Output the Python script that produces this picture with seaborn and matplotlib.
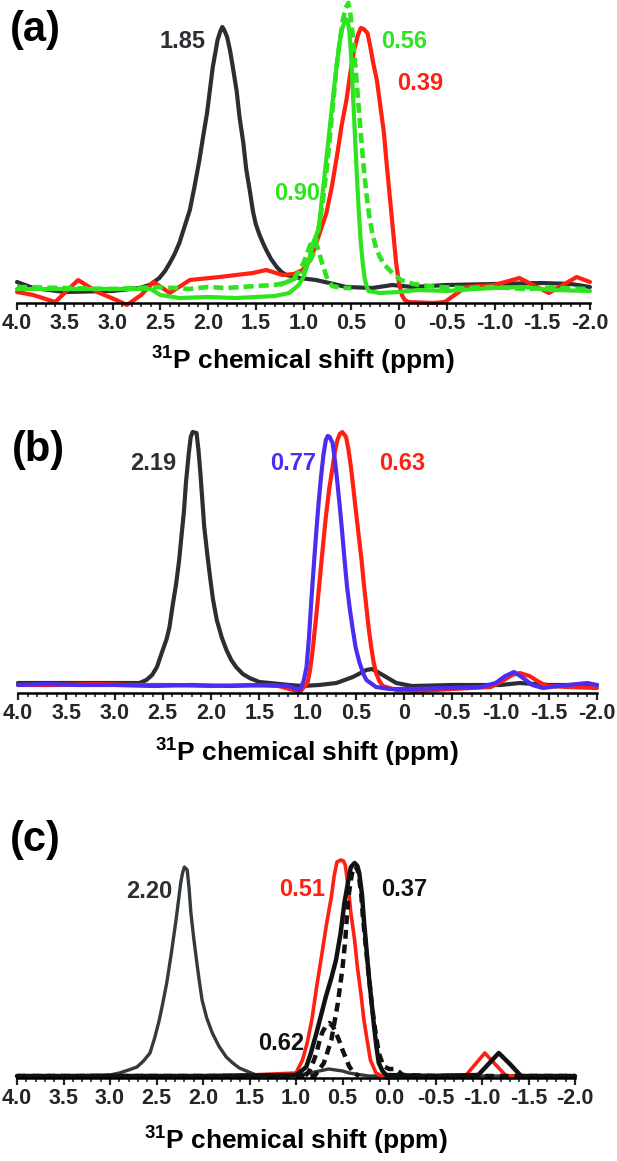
import numpy as np
import matplotlib
matplotlib.use("Agg")
import matplotlib.pyplot as plt
import seaborn as sns
from matplotlib.ticker import MultipleLocator, FixedLocator

sns.set_style("white")
plt.rcParams['font.family'] = ['Liberation Sans', 'DejaVu Sans']
plt.rcParams['mathtext.fontset'] = 'custom'
plt.rcParams['mathtext.rm'] = 'Liberation Sans:bold'
plt.rcParams['mathtext.bf'] = 'Liberation Sans:bold'

# ---------------- data: (ppm, intensity in arbitrary units) ----------------
# panel (a)
a_black = [(4.00, 21), (3.83, 15), (3.50, 11), (3.00, 12), (2.72, 15), (2.61, 18), (2.51, 25), (2.45, 32),
           (2.40, 40), (2.35, 49), (2.30, 60), (2.25, 75), (2.19, 93), (2.14, 117), (2.09, 143), (2.05, 167),
           (2.01, 190), (1.98, 213), (1.95, 236), (1.92, 252), (1.90, 263), (1.87, 272), (1.85, 276), (1.83, 273),
           (1.80, 266), (1.77, 253), (1.74, 236), (1.70, 212), (1.67, 186), (1.63, 160), (1.60, 134), (1.56, 111),
           (1.53, 92), (1.50, 79), (1.46, 68), (1.42, 59), (1.39, 53), (1.34, 44), (1.28, 36), (1.23, 31),
           (1.18, 28), (1.04, 25), (0.87, 23), (0.73, 20), (0.55, 16), (0.28, 15), (0.07, 18), (-0.14, 16),
           (-0.50, 18), (-1.00, 19), (-1.50, 20), (-1.80, 19), (-2.00, 16)]

a_red = [(4.00, 11), (3.83, 8), (3.60, 1), (3.36, 23), (3.16, 11), (2.96, 3), (2.85, -2), (2.70, 8), (2.57, 21),
         (2.40, 10), (2.19, 23), (1.88, 26), (1.53, 30), (1.39, 33), (1.22, 28), (1.10, 29), (1.01, 33), (0.95, 40),
         (0.89, 53), (0.83, 70), (0.76, 90), (0.70, 118), (0.64, 153), (0.60, 178), (0.55, 203), (0.51, 230),
         (0.47, 253), (0.43, 268), (0.40, 275), (0.37, 274), (0.33, 270), (0.30, 256), (0.27, 240), (0.23, 222),
         (0.20, 200), (0.16, 172), (0.13, 140), (0.10, 110), (0.07, 80), (0.05, 60), (0.03, 40), (0.00, 20),
         (-0.03, 8), (-0.06, 3), (-0.10, 1), (-0.36, 0), (-0.48, 1), (-0.70, 16), (-1.00, 18), (-1.26, 25),
         (-1.57, 10), (-1.86, 26), (-2.00, 21)]

a_green = [(4.00, 14), (3.50, 14), (3.00, 14), (2.60, 14), (2.50, 8), (2.30, 5), (2.00, 6), (1.70, 5), (1.50, 6),
           (1.30, 7), (1.15, 10), (1.05, 18), (1.00, 26), (0.97, 35), (0.93, 48), (0.90, 60), (0.87, 67),
           (0.84, 75), (0.80, 110), (0.76, 145), (0.72, 180), (0.68, 215), (0.65, 240), (0.62, 262), (0.59, 276),
           (0.56, 284), (0.54, 283), (0.52, 272), (0.50, 245), (0.48, 205), (0.46, 165), (0.44, 125), (0.42, 90),
           (0.40, 60), (0.38, 40), (0.36, 25), (0.34, 17), (0.32, 12), (0.20, 10), (0.00, 11), (-0.20, 13),
           (-0.50, 12), (-0.80, 14), (-1.00, 15), (-1.30, 16), (-1.60, 13), (-2.00, 12)]

a_green_fit = [(4.00, 16), (3.50, 15), (3.00, 14), (2.50, 16), (2.20, 14), (2.00, 16), (1.80, 15), (1.50, 17),
               (1.30, 18), (1.20, 20), (1.10, 24), (1.00, 30), (0.90, 48), (0.85, 70), (0.80, 100), (0.75, 140),
               (0.70, 190), (0.66, 230), (0.62, 262), (0.59, 282), (0.56, 295), (0.53, 300), (0.51, 290),
               (0.49, 272), (0.46, 240), (0.43, 205), (0.40, 170), (0.37, 136), (0.34, 108), (0.31, 86),
               (0.28, 70), (0.24, 55), (0.20, 46), (0.15, 38), (0.07, 30), (-0.02, 23), (-0.15, 19), (-0.40, 16),
               (-0.70, 15), (-1.00, 16), (-1.30, 14), (-1.60, 15), (-2.00, 14)]

a_green_fit2 = [(1.25, 18), (1.10, 24), (1.00, 40), (0.93, 58), (0.89, 63), (0.85, 55), (0.80, 38), (0.75, 24),
                (0.70, 17), (0.60, 15), (0.50, 15)]

# panel (b)
b_black = [(4.00, 10), (3.50, 10), (3.00, 10), (2.74, 10), (2.67, 13), (2.61, 18), (2.56, 26), (2.50, 43),
           (2.46, 54), (2.43, 66), (2.40, 86), (2.36, 110), (2.33, 133), (2.31, 153), (2.28, 182), (2.26, 210),
           (2.23, 240), (2.21, 256), (2.19, 261), (2.15, 260), (2.13, 243), (2.11, 220), (2.09, 193), (2.07, 166),
           (2.04, 140), (2.01, 116), (1.98, 94), (1.94, 73), (1.89, 56), (1.84, 43), (1.79, 33), (1.74, 26),
           (1.67, 19), (1.60, 15), (1.50, 11), (1.39, 10), (1.19, 8), (1.05, 7), (0.88, 8), (0.70, 10),
           (0.53, 16), (0.39, 23), (0.33, 24), (0.22, 18), (0.08, 10), (-0.08, 7), (-0.50, 8), (-1.00, 8),
           (-1.20, 10), (-1.50, 8), (-2.00, 8)]

b_red = [(4.00, 8), (3.60, 8), (3.20, 9), (2.80, 8), (2.40, 8), (2.00, 7), (1.60, 8), (1.30, 7), (1.15, 3),
         (1.08, 1), (1.00, 10), (0.975, 22), (0.95, 40), (0.915, 72), (0.88, 106), (0.845, 142), (0.81, 176),
         (0.775, 204), (0.74, 226), (0.715, 242), (0.69, 253), (0.665, 259), (0.64, 261), (0.60, 256),
         (0.575, 243), (0.55, 226), (0.525, 205), (0.50, 183), (0.47, 158), (0.44, 133), (0.415, 108),
         (0.39, 86), (0.365, 64), (0.34, 46), (0.315, 31), (0.29, 20), (0.255, 12), (0.22, 7), (0.08, 3),
         (-0.16, 2), (-0.50, 4), (-0.90, 6), (-1.02, 12), (-1.12, 18), (-1.20, 20), (-1.30, 17), (-1.40, 11),
         (-1.48, 7), (-1.70, 6), (-2.00, 5)]

b_blue = [(4.00, 8), (3.70, 9), (3.40, 8), (3.00, 8), (2.60, 7), (2.20, 8), (1.80, 7), (1.40, 8), (1.20, 7),
          (1.08, 3), (1.04, 12), (1.01, 26), (0.985, 55), (0.96, 93), (0.935, 127), (0.91, 160), (0.885, 190),
          (0.86, 216), (0.835, 238), (0.81, 253), (0.79, 257), (0.77, 256), (0.74, 250), (0.715, 232),
          (0.69, 210), (0.665, 186), (0.64, 160), (0.615, 132), (0.59, 106), (0.56, 83), (0.53, 63), (0.50, 45),
          (0.46, 30), (0.42, 19), (0.39, 13), (0.29, 6), (0.15, 4), (-0.05, 4), (-0.47, 5), (-0.80, 6),
          (-0.95, 10), (-1.05, 17), (-1.14, 21), (-1.22, 16), (-1.33, 8), (-1.44, 5), (-1.60, 7), (-1.90, 10),
          (-2.00, 8)]

# panel (c)
c_gray = [(4.00, 2), (3.50, 2), (3.00, 3), (2.90, 5), (2.80, 8), (2.71, 11), (2.64, 17), (2.57, 25), (2.52, 40),
          (2.47, 58), (2.43, 76), (2.39, 95), (2.34, 125), (2.29, 158), (2.26, 180), (2.24, 195), (2.22, 205),
          (2.20, 211), (2.17, 208), (2.15, 190), (2.13, 165), (2.10, 140), (2.07, 118), (2.04, 97), (2.01, 78),
          (1.96, 60), (1.90, 45), (1.83, 32), (1.75, 21), (1.68, 15), (1.61, 10), (1.43, 3), (1.20, 2),
          (0.97, 3), (0.80, 6), (0.65, 9), (0.50, 7), (0.43, 5), (0.22, 2), (0.00, 2), (-0.50, 2), (-1.00, 2),
          (-1.50, 2), (-2.00, 2)]

c_red = [(4.00, 2), (3.00, 1), (2.00, 2), (1.50, 3), (1.00, 5), (0.93, 18), (0.88, 35), (0.83, 58), (0.78, 90),
         (0.72, 125), (0.67, 155), (0.62, 181), (0.59, 202), (0.56, 216), (0.52, 218), (0.49, 217), (0.47, 213),
         (0.44, 192), (0.41, 165), (0.37, 138), (0.34, 111), (0.30, 83), (0.27, 58), (0.23, 35), (0.20, 18),
         (0.14, 5), (0.03, 0), (-0.30, 2), (-0.70, 3), (-0.83, 3), (-0.93, 14), (-1.03, 25), (-1.13, 15),
         (-1.26, 2), (-1.50, 2), (-2.00, 2)]

c_black = [(4.00, 2), (3.00, 2), (2.00, 2), (1.00, 3), (0.97, 5), (0.89, 11), (0.84, 25), (0.78, 45), (0.73, 63),
           (0.68, 81), (0.62, 100), (0.57, 118), (0.52, 145), (0.48, 175), (0.44, 196), (0.41, 211), (0.37, 215),
           (0.34, 212), (0.32, 205), (0.29, 183), (0.27, 158), (0.245, 132), (0.22, 105), (0.19, 78), (0.16, 51),
           (0.135, 31), (0.11, 15), (0.07, 7), (0.03, 3), (-0.50, 2), (-0.96, 3), (-1.07, 14), (-1.18, 25),
           (-1.30, 14), (-1.42, 2), (-1.70, 2), (-2.00, 2)]

c_fit = [(4.00, 2), (3.00, 2), (2.00, 2), (1.00, 2), (0.80, 2), (0.70, 15), (0.62, 38), (0.55, 75), (0.50, 110),
         (0.47, 138), (0.45, 165), (0.43, 185), (0.41, 198), (0.39, 208), (0.37, 212), (0.35, 210), (0.33, 206),
         (0.30, 185), (0.28, 160), (0.25, 132), (0.22, 105), (0.19, 78), (0.16, 55), (0.13, 37), (0.11, 25),
         (0.06, 12), (0.00, 9), (-0.07, 9), (-0.15, 3), (-0.50, 2), (-1.00, 2), (-1.50, 2), (-2.00, 2)]

c_fit2 = [(0.90, 2), (0.85, 8), (0.81, 17), (0.78, 25), (0.75, 36), (0.72, 45), (0.68, 52), (0.64, 55),
          (0.60, 51), (0.57, 45), (0.53, 36), (0.50, 28), (0.46, 19), (0.43, 12), (0.38, 5), (0.32, 2)]

tick_vals = [4.0, 3.5, 3.0, 2.5, 2.0, 1.5, 1.0, 0.5, 0.0, -0.5, -1.0, -1.5, -2.0]
tick_text_ab = ['4.0', '3.5', '3.0', '2.5', '2.0', '1.5', '1.0', '0.5', '0', '-0.5', '-1.0', '-1.5', '-2.0']
tick_text_c = ['4.0', '3.5', '3.0', '2.5', '2.0', '1.5', '1.0', '0.5', '0.0', '-0.5', '-1.0', '-1.5', '-2.0']

# colours
BLACK = '#2b2f33'
GRAY = '#33393c'
RED = '#ff2012'
GREEN = '#2ee41e'
BLUE = '#4d2cf2'
DARK = '#111111'

W, H = 617, 1161
fig = plt.figure(figsize=(W / 100, H / 100), dpi=100)


def panel(left, right, axis_y, top_y, labels):
    ax = fig.add_axes([left / W, 1 - axis_y / H, (right - left) / W, (axis_y - top_y) / H])
    ax.set_xlim(4.0, -2.0)
    ax.set_ylim(0, axis_y - top_y)
    for s in ['left', 'top', 'right']:
        ax.spines[s].set_visible(False)
    ax.spines['bottom'].set_linewidth(1.8)
    ax.spines['bottom'].set_color('black')
    ax.set_yticks([])
    ax.xaxis.set_major_locator(FixedLocator(tick_vals))
    ax.set_xticklabels(labels, fontsize=15.5, fontweight='bold')
    ax.xaxis.set_minor_locator(MultipleLocator(0.1))
    ax.tick_params(axis='x', which='major', direction='out', length=5, width=1.6, pad=2, bottom=True)
    ax.tick_params(axis='x', which='minor', direction='out', length=3, width=1.2, bottom=True)
    ax.patch.set_alpha(0)
    return ax


def curve(ax, pts, color, lw, ls='-'):
    x = [p[0] for p in pts]
    y = [p[1] for p in pts]
    sns.lineplot(x=x, y=y, ax=ax, color=color, linewidth=lw, linestyle=ls,
                 estimator=None, sort=False, legend=False, clip_on=False)
    ax.set_xlabel('')
    ax.set_ylabel('')


def label(px, py, s, color='black', size=17):
    fig.text(px / W, 1 - py / H, s, ha='center', va='center', fontsize=size,
             fontweight='bold', color=color)


# ---------------- (a) ----------------
ax_a = panel(17, 590, 303, 0, tick_text_ab)
curve(ax_a, a_black, BLACK, 3.0)
curve(ax_a, a_red, RED, 3.0)
curve(ax_a, a_green, GREEN, 3.0)
curve(ax_a, a_green_fit, GREEN, 3.3, (0, (2.2, 1.1)))
curve(ax_a, a_green_fit2, GREEN, 3.3, (0, (2.2, 1.1)))

# ---------------- (b) ----------------
ax_b = panel(18, 597, 693, 400, tick_text_ab)
curve(ax_b, b_black, BLACK, 3.0)
curve(ax_b, b_red, RED, 3.0)
curve(ax_b, b_blue, BLUE, 3.0)

# ---------------- (c) ----------------
ax_c = panel(17, 575, 1078, 850, tick_text_c)
curve(ax_c, c_gray, GRAY, 2.4)
curve(ax_c, c_red, RED, 2.6)
curve(ax_c, c_black, DARK, 3.2)
curve(ax_c, c_fit, DARK, 3.2, (0, (2.0, 1.3)))
curve(ax_c, c_fit2, DARK, 3.2, (0, (2.0, 1.3)))

# ---------------- texts ----------------
xlab = r'$^{31}$P chemical shift (ppm)'
label(303, 360, xlab, size=19)
label(307, 752, xlab, size=19)
label(296, 1140, xlab, size=19)

label(35, 30, '(a)', size=30)
label(38, 450, '(b)', size=30)
label(35, 840, '(c)', size=30)

label(183, 42, '1.85', BLACK)
label(404, 42, '0.56', GREEN)
label(420, 83, '0.39', RED)
label(297, 193, '0.90', GREEN)

label(153, 463, '2.19', BLACK)
label(293, 463, '0.77', BLUE)
label(402, 463, '0.63', RED)

label(149, 891, '2.20', BLACK)
label(302, 890, '0.51', RED)
label(404, 890, '0.37', DARK)
label(281, 1043, '0.62', DARK)

fig.savefig('out.png', dpi=100)
